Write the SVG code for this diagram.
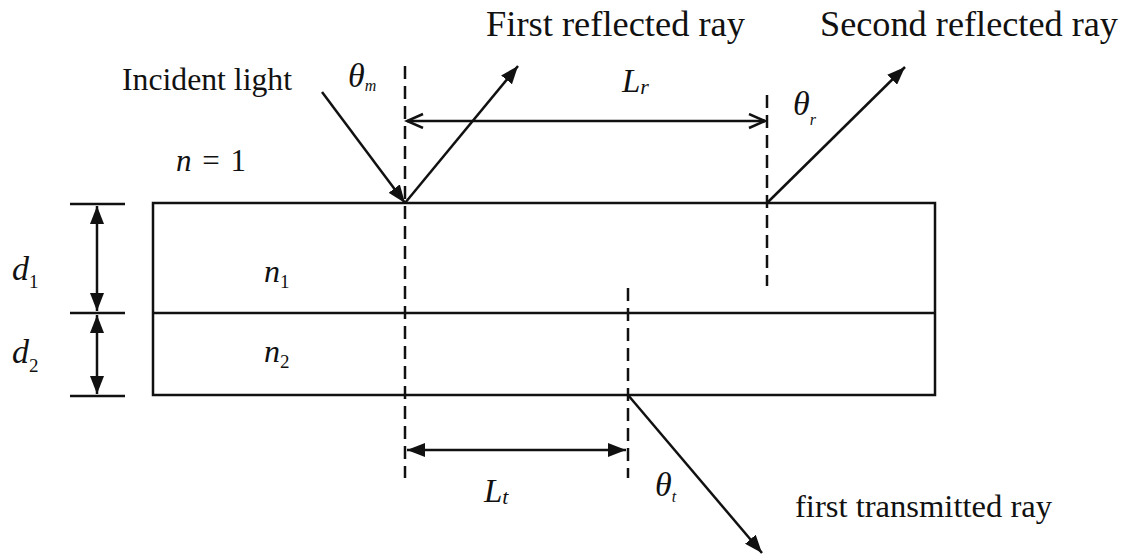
<svg xmlns="http://www.w3.org/2000/svg" width="1126" height="559" viewBox="0 0 1126 559">
<style>
.ln{stroke:#111;stroke-width:2.5;fill:none}
.dash{stroke:#111;stroke-width:2.5;fill:none;stroke-dasharray:13 7}
text{font-family:'Liberation Serif','DejaVu Serif',serif;fill:#111}
.i{font-style:italic}
.u{font-style:normal}
</style>
<defs>
<marker id="fa" markerUnits="userSpaceOnUse" markerWidth="20" markerHeight="14" refX="18" refY="7" orient="auto-start-reverse">
<path d="M0,0 L18,7 L0,14 z" fill="#111"/>
</marker>
<marker id="oa" markerUnits="userSpaceOnUse" markerWidth="20" markerHeight="18" refX="17" refY="8" orient="auto-start-reverse">
<path d="M1,1 L17,8 L1,15" fill="none" stroke="#111" stroke-width="2.5"/>
</marker>
</defs>
<rect width="1126" height="559" fill="#fff"/>
<g id="slab">
<rect x="153" y="203" width="782" height="192" class="ln"/>
<line x1="153" y1="313" x2="935" y2="313" class="ln"/>
</g>
<g id="dimensions">
<line x1="70" y1="204" x2="125" y2="204" class="ln"/>
<line x1="70" y1="313" x2="125" y2="313" class="ln"/>
<line x1="70" y1="396" x2="125" y2="396" class="ln"/>
</g>
<g id="normals">
<line x1="405" y1="66" x2="405" y2="478" class="dash"/>
<line x1="767" y1="95" x2="767" y2="286" class="dash"/>
<line x1="628" y1="288" x2="628" y2="478" class="dash"/>
</g>
<g id="connectors">
<line x1="97" y1="206" x2="97" y2="311" class="ln" marker-start="url(#fa)" marker-end="url(#fa)"/>
<line x1="97" y1="315" x2="97" y2="394" class="ln" marker-start="url(#fa)" marker-end="url(#fa)"/>
<line x1="322" y1="92" x2="405" y2="203" class="ln" marker-end="url(#fa)"/>
<line x1="405" y1="203" x2="518" y2="66" class="ln" marker-end="url(#fa)"/>
<line x1="767" y1="203" x2="905" y2="67" class="ln" marker-end="url(#fa)"/>
<line x1="628" y1="395" x2="762" y2="553" class="ln" marker-end="url(#fa)"/>
<line x1="407" y1="121" x2="765" y2="121" class="ln" marker-start="url(#oa)" marker-end="url(#oa)"/>
<line x1="407" y1="450" x2="626" y2="450" class="ln" marker-start="url(#fa)" marker-end="url(#fa)"/>
</g>
<g id="labels">
<text x="122" y="90" font-size="31" textLength="170" lengthAdjust="spacingAndGlyphs">Incident light</text>
<text x="486" y="36" font-size="36" textLength="259" lengthAdjust="spacingAndGlyphs">First reflected ray</text>
<text x="820" y="36" font-size="36" textLength="298" lengthAdjust="spacingAndGlyphs">Second reflected ray</text>
<text x="795" y="517" font-size="32" textLength="257" lengthAdjust="spacingAndGlyphs">first transmitted ray</text>
<text x="176" y="171" font-size="31" textLength="70" lengthAdjust="spacing"><tspan class="i">n</tspan> = 1</text>
<text class="i" x="348" y="87" font-size="34">θ<tspan font-size="16" dy="4">m</tspan></text>
<text class="i" x="793" y="115" font-size="34">θ<tspan font-size="16" dy="10">r</tspan></text>
<text class="i" x="655" y="496" font-size="34">θ<tspan font-size="16" dy="6">t</tspan></text>
<text class="i" x="622" y="92" font-size="33">L<tspan font-size="22" dy="2">r</tspan></text>
<text class="i" x="484" y="502" font-size="33">L<tspan font-size="22" dy="2">t</tspan></text>
<text class="i" x="12" y="280" font-size="34">d<tspan class="u" font-size="19" dy="8">1</tspan></text>
<text class="i" x="12" y="363" font-size="34">d<tspan class="u" font-size="19" dy="9">2</tspan></text>
<text class="i" x="264" y="282" font-size="32">n<tspan class="u" font-size="19" dy="6">1</tspan></text>
<text class="i" x="264" y="362" font-size="32">n<tspan class="u" font-size="19" dy="6">2</tspan></text>
</g>
</svg>
